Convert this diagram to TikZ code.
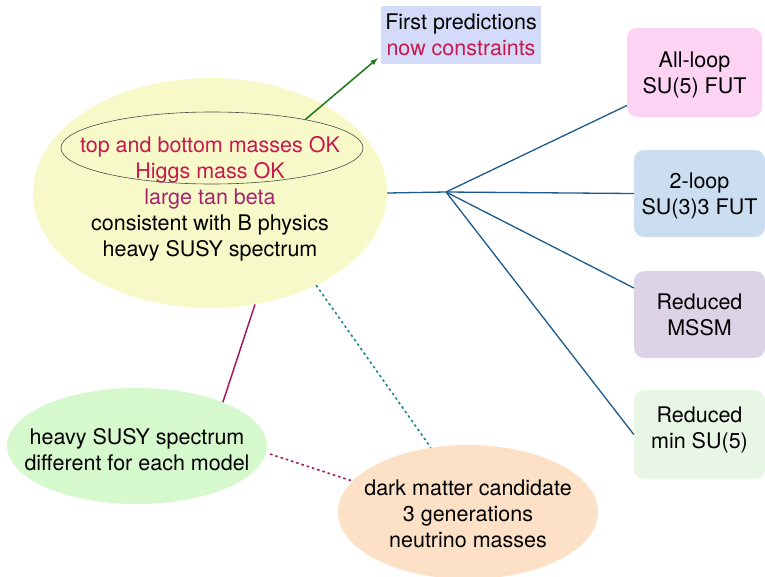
\documentclass[tikz,border=0pt]{standalone}
\usepackage{fontspec}
\setmainfont{TeX Gyre Heros}
\usepackage{xcolor}
\usepackage{tikz}
\usetikzlibrary{shapes,arrows,positioning,calc}

\definecolor{okred}{HTML}{C8184E}
\definecolor{tanpurple}{HTML}{A3246C}
\definecolor{hubblue}{HTML}{1C5A8C}
\definecolor{arrowgreen}{HTML}{1B7A17}
\definecolor{dotteal}{HTML}{16898A}
\definecolor{plum}{HTML}{A3195F}
\definecolor{fillyellow}{HTML}{F8F9C9}
\definecolor{fillgreen}{HTML}{D5F8CC}
\definecolor{fillorange}{HTML}{FDE1C6}
\definecolor{fillpred}{HTML}{D4DBF8}
\definecolor{fillpink}{HTML}{FCD3F3}
\definecolor{fillblue}{HTML}{CBDDF0}
\definecolor{filllilac}{HTML}{DCD4E6}
\definecolor{fillmint}{HTML}{E8F7E5}

\tikzset{
    txt/.style={align=center, inner sep=0pt, text depth=0pt, font=\fontsize{21.5}{26}\selectfont},
    blob/.style={ellipse, inner sep=0pt},
    model/.style={txt, rounded corners=10pt, minimum width=131pt, minimum height=87pt},
}

\begin{document}
\begin{tikzpicture}[x=1pt,y=-1pt]
    \useasboundingbox (0,0) rectangle (765,576);

    % ellipses
    \node[blob, fill=fillyellow, minimum width=354pt, minimum height=230pt] (main) at (210,193) {};
    \node[blob, draw=black!70, line width=0.6pt, minimum width=302pt, minimum height=72pt] (inner) at (212,148) {};
    \node[txt] (maintxt) at (210,196) {\textcolor{okred}{top and bottom masses OK}\\
        \textcolor{okred}{Higgs mass OK}\\ \textcolor{tanpurple}{large tan beta}\\
        consistent with B physics\\ heavy SUSY spectrum};

    \node[blob, fill=fillgreen, minimum width=260pt, minimum height=116pt] (spec) at (137,446) {};
    \node[txt] (spectxt) at (137,449) {heavy SUSY spectrum\\ different for each model};

    \node[blob, fill=fillorange, minimum width=260pt, minimum height=134pt] (dm) at (468,512) {};
    \node[txt] (dmtxt) at (468,514) {dark matter candidate\\ 3 generations\\ neutrino masses};

    % boxes (text depth moves the two lines inside each box)
    \node[txt, fill=fillpred, minimum width=160pt, minimum height=58pt] (pred) at (461,35)
        {First predictions\\ \textcolor{okred}{now constraints}};
    \node[model, fill=fillpink, minimum width=135pt, minimum height=89pt, text depth=-5pt] (fut5) at (694.5,72.5) {All-loop\\ SU(5) FUT};
    \node[model, fill=fillblue, text depth=-4pt] (fut3) at (699.5,193.5) {2-loop\\ SU(3)3 FUT};
    \node[model, fill=filllilac] (mssm) at (699.5,314.5) {Reduced\\ MSSM};
    \node[model, fill=fillmint, minimum height=89pt, text depth=13pt] (minsu5) at (699.5,434.5) {Reduced\\ min SU(5)};

    \coordinate (hub) at (446,192);
    \coordinate (predtip) at ($(pred.south west)+(-3,-6)$);

    \draw[-latex, arrowgreen, line width=1.5pt] (inner.17) -- (predtip);

    \draw[hubblue, line width=1.3pt] (main.east) -- (hub);
    \draw[hubblue, line width=1.3pt] (hub) -- (fut5.206);
    \draw[hubblue, line width=1.3pt] (hub) -- (fut3.west);
    \draw[hubblue, line width=1.3pt] (hub) -- (mssm.158);
    \draw[hubblue, line width=1.3pt] (hub) -- (minsu5.west);

    \draw[plum, line width=1.5pt] (main.-68.5) -- (spec.27);
    \draw[dotteal, line width=1.6pt, dash pattern=on 2.5pt off 3pt] (main.-41.3) -- (dm.120);
    \draw[plum, line width=1.6pt, dash pattern=on 2.5pt off 3pt, shorten <=4pt] (spec.-3) -- (dm.165);
\end{tikzpicture}
\end{document}
